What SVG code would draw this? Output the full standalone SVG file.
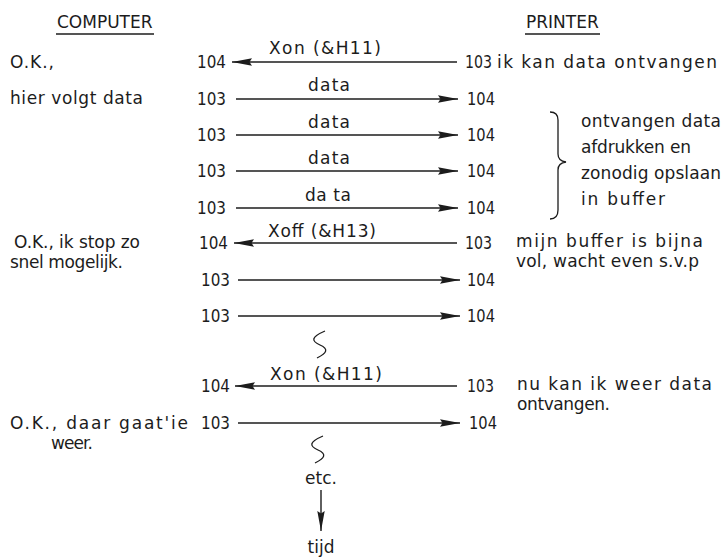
<svg xmlns="http://www.w3.org/2000/svg" width="726" height="560" viewBox="0 0 726 560">
  <style>
    text { font-family: "DejaVu Sans", "Liberation Sans", sans-serif; font-size: 17px; fill: #1c1c1c; }
    .mid { text-anchor: middle; }
    .line { stroke: #1c1c1c; stroke-width: 1.4; fill: none; }
    .squig { stroke: #1c1c1c; stroke-width: 1.3; fill: none; }
  </style>
  <defs>
    <marker id="head" markerUnits="userSpaceOnUse" viewBox="0 0 20 8" refX="20" refY="4" markerWidth="20" markerHeight="8" orient="auto">
      <path d="M0 0.3 L20 4 L0 7.7 L2.5 4 Z" fill="#1c1c1c"/>
    </marker>
  </defs>
  <rect width="726" height="560" fill="#ffffff"/>

  <!-- column headings -->
  <g id="heading-computer">
    <text x="57" y="28">COMPUTER</text>
    <line class="line" x1="56" y1="34" x2="154" y2="34"/>
  </g>
  <g id="heading-printer">
    <text x="526" y="28">PRINTER</text>
    <line class="line" x1="525" y1="34" x2="600" y2="34"/>
  </g>

  <!-- computer side remarks -->
  <g id="computer-notes">
    <text x="10" y="68" textLength="44">O.K.,</text>
    <text x="10" y="104" textLength="133">hier volgt data</text>
    <text x="14" y="248" textLength="126">O.K., ik stop zo</text>
    <text x="10" y="268" textLength="113">snel mogelijk.</text>
    <text x="10" y="429" textLength="178">O.K., daar gaat'ie</text>
    <text x="51" y="449" textLength="42">weer.</text>
  </g>

  <!-- printer side remarks -->
  <g id="printer-notes">
    <text x="497" y="68" textLength="220">ik kan data ontvangen</text>
    <text x="581" y="127" textLength="140">ontvangen data</text>
    <text x="581" y="153" textLength="110">afdrukken en</text>
    <text x="581" y="179" textLength="140">zonodig opslaan</text>
    <text x="581" y="205" textLength="84">in buffer</text>
    <text x="516" y="247" textLength="187">mijn buffer is bijna</text>
    <text x="516" y="267" textLength="183">vol, wacht even s.v.p</text>
    <text x="517" y="390" textLength="195">nu kan ik weer data</text>
    <text x="517" y="410" textLength="93">ontvangen.</text>
  </g>

  <!-- brace grouping the data rows -->
  <g id="brace">
    <path class="squig" d="M550 112 Q558 112 558 120 L558 154 Q558 161 566 162 Q558 163 558 170 L558 210 Q558 219 550 219"/>
  </g>

  <!-- line numbers at both ends -->
  <g id="pins">
    <text x="197" y="68" textLength="29" lengthAdjust="spacingAndGlyphs">104</text><text x="465" y="68" textLength="27" lengthAdjust="spacingAndGlyphs">103</text>
    <text x="197" y="105" textLength="29" lengthAdjust="spacingAndGlyphs">103</text><text x="467" y="105" textLength="28" lengthAdjust="spacingAndGlyphs">104</text>
    <text x="197" y="141" textLength="29" lengthAdjust="spacingAndGlyphs">103</text><text x="467" y="141" textLength="28" lengthAdjust="spacingAndGlyphs">104</text>
    <text x="197" y="177" textLength="29" lengthAdjust="spacingAndGlyphs">103</text><text x="467" y="177" textLength="28" lengthAdjust="spacingAndGlyphs">104</text>
    <text x="197" y="214" textLength="29" lengthAdjust="spacingAndGlyphs">103</text><text x="467" y="214" textLength="28" lengthAdjust="spacingAndGlyphs">104</text>
    <text x="199" y="249" textLength="29" lengthAdjust="spacingAndGlyphs">104</text><text x="465" y="249" textLength="27" lengthAdjust="spacingAndGlyphs">103</text>
    <text x="201" y="286" textLength="29" lengthAdjust="spacingAndGlyphs">103</text><text x="467" y="286" textLength="28" lengthAdjust="spacingAndGlyphs">104</text>
    <text x="201" y="322" textLength="29" lengthAdjust="spacingAndGlyphs">103</text><text x="467" y="322" textLength="28" lengthAdjust="spacingAndGlyphs">104</text>
    <text x="201" y="392" textLength="29" lengthAdjust="spacingAndGlyphs">104</text><text x="467" y="392" textLength="27" lengthAdjust="spacingAndGlyphs">103</text>
    <text x="201" y="429" textLength="29" lengthAdjust="spacingAndGlyphs">103</text><text x="469" y="429" textLength="28" lengthAdjust="spacingAndGlyphs">104</text>
  </g>

  <!-- signal labels -->
  <g id="labels">
    <text class="mid" x="325" y="54" textLength="112">Xon (&amp;H11)</text>
    <text class="mid" x="329" y="91" textLength="42">data</text>
    <text class="mid" x="329" y="128" textLength="42">data</text>
    <text class="mid" x="329" y="164" textLength="42">data</text>
    <text class="mid" x="328" y="201" textLength="46">da ta</text>
    <text class="mid" x="322" y="237" textLength="108">Xoff (&amp;H13)</text>
    <text class="mid" x="326" y="380" textLength="112">Xon (&amp;H11)</text>
    <text class="mid" x="321" y="484">etc.</text>
    <text class="mid" x="321" y="553">tijd</text>
  </g>

  <!-- handshake transfers -->
  <g id="connectors">
    <line class="line" x1="457" y1="62" x2="232" y2="62" marker-end="url(#head)"/>
    <line class="line" x1="236" y1="99" x2="458" y2="99" marker-end="url(#head)"/>
    <line class="line" x1="236" y1="135" x2="458" y2="135" marker-end="url(#head)"/>
    <line class="line" x1="236" y1="171" x2="458" y2="171" marker-end="url(#head)"/>
    <line class="line" x1="236" y1="208" x2="458" y2="208" marker-end="url(#head)"/>
    <line class="line" x1="457" y1="243" x2="234" y2="243" marker-end="url(#head)"/>
    <line class="line" x1="238" y1="280" x2="460" y2="280" marker-end="url(#head)"/>
    <line class="line" x1="238" y1="316" x2="460" y2="316" marker-end="url(#head)"/>
    <line class="line" x1="457" y1="386" x2="235" y2="386" marker-end="url(#head)"/>
    <line class="line" x1="238" y1="423" x2="460" y2="423" marker-end="url(#head)"/>
    <!-- time axis -->
    <line class="line" x1="321" y1="490" x2="321" y2="531" marker-end="url(#head)"/>
    <!-- breaks in the sequence -->
    <path class="squig" d="M325 331 C311 337 311 341 320 345 C329 349 327 353 317 358"/>
    <path class="squig" d="M323 436 C309 442 309 446 318 450 C327 454 325 458 315 463"/>
  </g>
</svg>
